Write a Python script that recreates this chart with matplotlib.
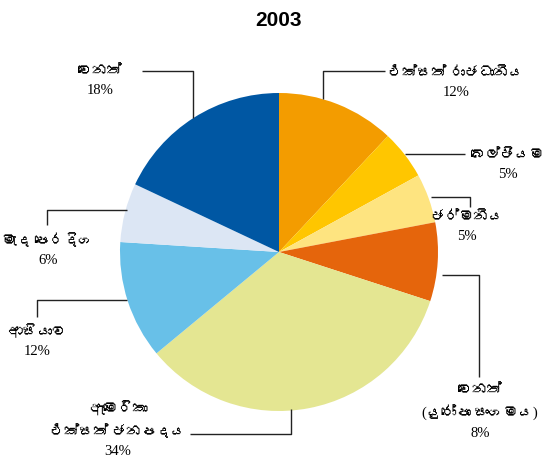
import matplotlib
matplotlib.use("Agg")
import matplotlib.pyplot as plt
from matplotlib import font_manager
from matplotlib.ft2font import FT2Font

# ---- data ----
title = "2003"
labels = ["එක්සත් රාජධානිය", "බෙල්ජියම", "ජර්මනිය", "වෙනත්\n(යුරෝපා සංගමය)",
          "ඇමෙරිකා\nඑක්සත් ජනපදය", "ආසියාව", "මැද පෙරදිග", "වෙනත්"]
values = [12, 5, 5, 8, 34, 12, 6, 18]
colors = ["#F39C00", "#FFC600", "#FEE480", "#E5650C",
          "#E4E692", "#68C0E8", "#DCE6F4", "#0057A3"]

# ---- find a font with Sinhala glyphs if any ----
sinhala = None
for f in font_manager.fontManager.ttflist:
    try:
        if 0x0DC3 in FT2Font(f.fname).get_charmap():
            sinhala = f.name
            break
    except Exception:
        pass
fam = ["Liberation Serif"] + ([sinhala] if sinhala else []) + ["DejaVu Sans"]

W, H = 555, 464
fig = plt.figure(figsize=(W / 100, H / 100), dpi=100)
cx, cy, R = 279, 253, 159
ax = fig.add_axes([(cx - R) / W, (H - cy - R) / H, 2 * R / W, 2 * R / H])
ax.pie(values, colors=colors, startangle=90, counterclock=False, radius=1,
       wedgeprops=dict(linewidth=0))
ax.set_xlim(-1, 1)
ax.set_ylim(-1, 1)
ax.set_aspect("equal")
ax.axis("off")

def d(px, py):
    return ((px - cx) / R, (cy - py) / R)

# leader paths (pixel layout) and label anchor (pixel layout)
leaders = [
    [(323, 100), (323, 72), (385, 72)],
    [(405, 155), (465, 155)],
    [(431, 198), (470, 198), (470, 208)],
    [(442, 276), (479, 276), (479, 378)],
    [(291, 410), (291, 435), (190, 435)],
    [(127, 301), (37, 301), (37, 318)],
    [(127, 211), (47, 211), (47, 226)],
    [(193, 119), (193, 72), (142, 72)],
]
label_pos = [(456, 83), (508, 165), (467, 227), (480, 412),
             (118, 430), (37, 341), (48, 250), (100, 81)]

for i, (lab, v) in enumerate(zip(labels, values)):
    pts = [d(*p) for p in leaders[i]]
    xs, ys = zip(*pts)
    ax.plot(xs, ys, color="#222222", lw=1.0, clip_on=False, solid_capstyle="butt")
    x, y = d(*label_pos[i])
    ax.text(x, y, f"{lab}\n{v}%", ha="center", va="center", fontsize=10.5,
            family=fam, linespacing=1.6, clip_on=False)

fig.text(279 / W, 1 - 20 / H, title, ha="center", va="center",
         fontsize=15, fontweight="bold", family=["Liberation Sans", "DejaVu Sans"])

fig.savefig("out.png", dpi=100)
